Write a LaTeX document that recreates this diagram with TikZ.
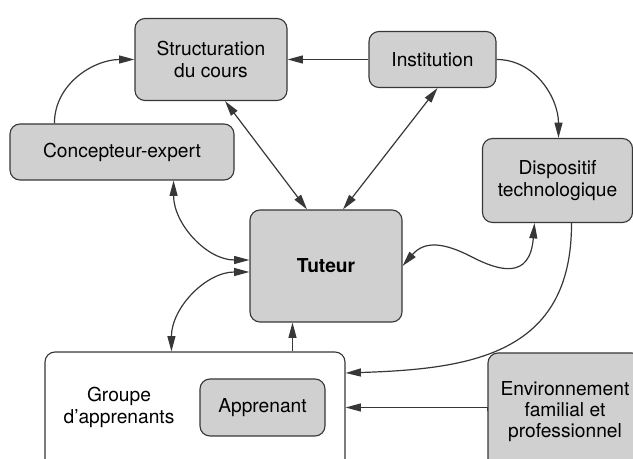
\documentclass[tikz,border=0pt]{standalone}
\usepackage{fontspec}
\setmainfont{TeX Gyre Heros}
\usetikzlibrary{%
    shapes,%
    arrows.meta,%
    positioning,%
    calc%
}
\definecolor{boxgray}{RGB}{208,208,208}
\definecolor{linegray}{RGB}{55,55,55}
\tikzset{
    block/.style = {draw = linegray, line width = 0.85pt, rounded corners = 7.5pt,
    fill = boxgray, inner sep = 0pt, align = center,
    font = \fontsize{14.4}{16}\selectfont},
    arr/.style = {draw = linegray, line width = 0.9pt,
    -{Triangle[length=11.5pt,width=6pt]}},
    dbl/.style = {draw = linegray, line width = 0.9pt,
    {Triangle[length=11.5pt,width=6pt]}-{Triangle[length=11.5pt,width=6pt]}}
}

\begin{document}
\begin{tikzpicture}[x=0.75pt, y=0.75pt]
    \useasboundingbox (0,0) rectangle (633,-459);
    \clip (0,0) rectangle (633,-459);
    \node[block, minimum width=114pt, minimum height=61.5pt] (cours) at (211,-59.5) {Structuration\\du cours};
    \node[block, minimum width=95.25pt, minimum height=42pt] (inst) at (432.5,-59.5) {Institution};
    \node[block, minimum width=168pt, minimum height=42pt] (concept) at (122,-152) {Concepteur-expert};
    \node[block, minimum width=112.5pt, minimum height=63pt] (dispo) at (557.5,-180.5) {Dispositif\\technologique};
    \node[block, minimum width=114pt, minimum height=84pt, font=\fontsize{14.4}{16}\selectfont\bfseries] (tuteur) at (326,-266) {Tuteur};
    \node[block, fill=white, minimum width=225pt, minimum height=88.5pt] (groupe) at (195,-411) {};
    \node[align=center, inner sep=0pt, font=\fontsize{14.4}{16}\selectfont] (grplabel) at (119,-407.5) {Groupe\\d'apprenants};
    \node[block, minimum width=93.75pt, minimum height=42.75pt] (apprenant) at (262.5,-407.5) {Apprenant};
    \node[block, minimum width=115.5pt, minimum height=87.75pt] (environ) at (565,-411.5) {Environnement\\familial et\\professionnel};

    \draw[arr] ($(concept.north west)+(45,0)$) to[out=90, in=180] (cours.west);
    \draw[arr] (inst.west) -- (cours.east);
    \draw[arr] (inst.east) to[out=0, in=90] ($(dispo.north)+(1,0)$);
    \draw[dbl] ($(cours.south)+(14,0)$) -- ($(tuteur.north)+(-19,0)$);
    \draw[dbl] ($(inst.south)+(5,0)$) -- ($(tuteur.north)+(17,0)$);
    \draw[dbl] ($(concept.south east)+(-61,0)$) to[out=-90, in=180] ($(tuteur.west)+(0,6)$);
    \draw[dbl] ($(groupe.north west)+(127,0)$) to[out=90, in=180] ($(tuteur.west)+(0,-6)$);
    \coordinate (g2t) at ($(tuteur.south)+(-33.5,0)$);
    \draw[arr] (g2t |- groupe.north) -- (g2t);
    \draw[dbl] (tuteur.east) .. controls (425,-240) and (445,-243) .. (472,-257)
        .. controls (499,-271) and (530,-280) .. ($(dispo.south)+(-23,0)$);
    \draw[arr] ($(dispo.south)+(14,0)$) .. controls (572,-355) and (470,-369) .. ($(groupe.east)+(0,38)$);
    \draw[arr] (environ.west) -- (environ.west |- apprenant.east) -- (groupe.east |- apprenant.east);

\end{tikzpicture}
\end{document}
